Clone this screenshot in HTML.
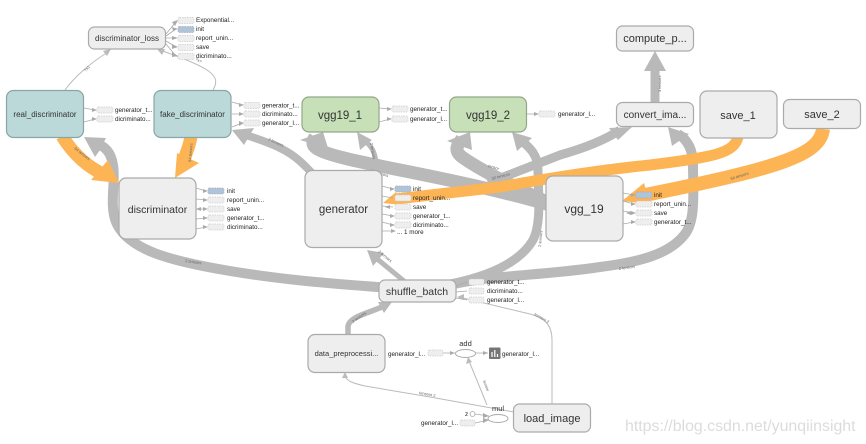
<!DOCTYPE html>
<html><head><meta charset="utf-8"><style>
html,body{margin:0;padding:0;background:#fff;width:866px;height:444px;overflow:hidden}
svg{display:block;filter:blur(.35px)}
text{font-family:"Liberation Sans",sans-serif;fill:#333}
.n{fill:#eee;stroke:#aaa;stroke-width:1.2}
.t{fill:#bbd9d9;stroke:#8aa5a5;stroke-width:1.2}
.g{fill:#c7e0b8;stroke:#93a88a;stroke-width:1.2}
.e{fill:none;stroke:#b9b9b9}
.o{fill:none;stroke:#fdb455}
.th{fill:none;stroke:#bbb;stroke-width:1}
.a{fill:#eee;stroke:#ccc;stroke-width:.7;stroke-dasharray:1.5 1}
.b{fill:#b0c4d8;stroke:#aab;stroke-width:.7;stroke-dasharray:1.5 1}
.l{font-size:6.3px;fill:#222}
.m{font-size:4px;fill:#666}
.c{text-anchor:middle}
</style></head><body>
<svg width="866" height="444" viewBox="0 0 866 444" xmlns="http://www.w3.org/2000/svg">
<rect width="866" height="444" fill="#fff"/>
<!-- thick gray edges -->
<path class="e" stroke-width="10" d="M390 288 C340 284 290 281 230 271 C170 261 128 250 116 222 C109 205 116 180 113 165 C111 152 105 146 95 143"/>
<polygon fill="#b9b9b9" points="84,137 106,138 100,150 95,157"/>
<path class="e" stroke-width="8" d="M320 182 C305 165 295 155 280 148 C270 143 258 139 246 135"/>
<polygon fill="#b9b9b9" points="232,130 254,128 244,145"/>
<path class="e" stroke-width="5" d="M404 281 L376 258"/>
<polygon fill="#b9b9b9" points="367,250 384,253 373,266"/>
<path class="e" stroke-width="13" d="M560 208 C500 190 440 178 400 170 C360 162 325 155 316 148 C311 144 313 140 315 137"/>
<polygon fill="#b9b9b9" points="323,132 328,148 300,140"/>
<path class="e" stroke-width="5" d="M376 166 C376 152 371 146 365 141"/>
<polygon fill="#b9b9b9" points="357,132 372,140 360,150"/>
<path class="e" stroke-width="13" d="M560 208 C520 190 480 170 462 157 C453 150 458 144 462 139"/>
<polygon fill="#b9b9b9" points="470,132 472,150 447,141"/>
<path class="e" stroke-width="9" d="M450 284 C490 276 520 262 533 240 C542 222 538 190 538 170 C538 155 530 148 522 141"/>
<polygon fill="#b9b9b9" points="512,132 532,138 517,151"/>
<path class="e" stroke-width="9" d="M488 183 L560 155 C585 148 605 140 620 130"/>
<polygon fill="#b9b9b9" points="632,127 609,128 618,140"/>
<path class="e" stroke-width="10" d="M450 285 C490 275 540 276 600 267 C640 262 670 254 685 234 C696 220 693 190 693 165 C693 150 688 140 678 134"/>
<polygon fill="#b9b9b9" points="668,127 689,134 672,146"/>
<path class="e" stroke-width="9" d="M655 102 L655 66"/>
<polygon fill="#b9b9b9" points="655,51 666,71 644,71"/>
<path class="e" stroke-width="5.5" d="M348 335 L348 326 C350 316 370 313 384 306"/>
<polygon fill="#b9b9b9" points="392,302 378,302 384,313"/>
<!-- orange edges -->
<path class="o" stroke-width="13" d="M62 136 C72 152 85 166 105 175"/>
<polygon fill="#fdb455" points="119,183 91,180 108,160"/>
<path class="o" stroke-width="13" d="M191 136 C190 145 187 150 184 160"/>
<polygon fill="#fdb455" points="175,178 177,153 199,163"/>
<path class="o" stroke-width="11" d="M738 137 C734 153 715 157 650 165 C600 170 555 177 500 187 L396 199"/>
<polygon fill="#fdb455" points="383,203 396,192 401,205"/>
<path class="o" stroke-width="14" d="M823 129 C820 155 780 168 640 196"/>
<polygon fill="#fdb455" points="622,201 644,183 650,204"/>
<!-- thin edges -->
<path class="th" d="M552 404 L552 340 C552 325 545 318 530 314 L463 298"/>
<polygon fill="#bbb" points="457,297 464,294 464,300"/>
<path class="th" d="M514 412 L430 397 L365 386 C352 383 347 381 345 376"/>
<polygon fill="#bbb" points="345,372 342,378 348,378"/>
<path class="th" d="M65 90 C75 76 92 62 108 52"/>
<polygon fill="#bbb" points="111,49 103,51 107,56"/>
<path class="th" d="M213 90 C222 75 210 68 160 50"/>
<polygon fill="#bbb" points="157,49 165,49 162,55"/>
<path class="th" d="M487 405 L469 361"/>
<polygon fill="#bbb" points="468,357 466,364 472,362"/>
<g fill="none" stroke="#aaa" stroke-width=".8">
<path d="M166 34 L175 23M166 36 L176 29M166 38 L176 38M166 41 L176 47M166 44 L176 56"/>
<path d="M84 108 L95 110M84 122 L95 119"/>
<path d="M232 102 L242 105M232 114 L242 114M232 127 L242 123"/>
<path d="M379 108 L390 109M379 122 L390 119"/>
<path d="M527 114 L537 114"/>
<path d="M382 186 L393 189M382 196 L393 198M382 206 L393 207M382 214 L393 216M382 222 L393 225M382 231 L394 231"/>
<path d="M623 193 L634 195M623 201 L634 204M623 211 L634 213M623 224 L634 222"/>
<path d="M196 188 L206 191M196 199 L206 200M196 209 L206 209M196 219 L206 218M196 229 L206 227"/>
<path d="M456 286 L467 282M456 292 L467 291M456 298 L467 300"/>
<path d="M443 353 L455 353M475 353 L488 353"/>
<path d="M475 414 L489 416M475 423 L489 420"/>
</g>
<g fill="#aaa">
<polygon points="178,20 172,22 175,26"/><polygon points="178,29 172,27 173,31"/><polygon points="178,38 172,36 172,40"/><polygon points="178,47 172,44 172,49"/><polygon points="178,56 172,52 172,57"/>
<polygon points="97,110 92,108 92,112"/><polygon points="97,119 92,117 92,121"/>
<polygon points="244,105 239,103 239,107"/><polygon points="244,114 239,112 239,116"/><polygon points="244,123 239,121 239,126"/>
<polygon points="392,109 387,107 387,111"/><polygon points="392,119 387,117 387,121"/>
<polygon points="539,114 534,112 534,116"/>
<polygon points="395,189 390,187 390,191"/><polygon points="395,216 390,214 390,218"/><polygon points="395,225 390,223 390,227"/><polygon points="396,231 391,229 391,233"/><polygon points="385,207 390,205 390,209"/>
<polygon points="636,195 631,193 631,197"/><polygon points="636,204 631,202 631,206"/><polygon points="636,213 631,211 631,215"/><polygon points="636,222 631,220 631,224"/><polygon points="626,213 631,211 631,215"/>
<polygon points="208,191 203,189 203,193"/><polygon points="208,200 203,198 203,202"/><polygon points="208,209 203,207 203,211"/><polygon points="196,209 201,207 201,211"/><polygon points="208,218 203,216 203,220"/><polygon points="208,227 203,225 203,229"/>
<polygon points="455,353 450,351 450,355"/><polygon points="488,353 483,351 483,355"/>
<polygon points="489,416 483,413 483,418"/><polygon points="489,420 483,418 483,423"/>
</g>
<!-- edge labels -->
<text class="m" transform="translate(86 72) rotate(-50)">?x1</text>
<text class="m" transform="translate(195 60) rotate(30)">?x?</text>
<text class="m" transform="translate(74 149) rotate(38)">64 tensors</text>
<text class="m" transform="translate(191 162) rotate(-85)">64 tensors</text>
<text class="m" transform="translate(268 140) rotate(25)">2 tensors</text>
<text class="m" transform="translate(370 172) rotate(16)">32 tensors</text>
<text class="m" transform="translate(370 143) rotate(80)">2 tensors</text>
<text class="m" transform="translate(488 167) rotate(16)">tensor</text>
<text class="m" transform="translate(492 180) rotate(-15)">32 tensors</text>
<text class="m" transform="translate(541 247) rotate(-85)">2 tensors</text>
<text class="m" transform="translate(185 262) rotate(8)">2 tensors</text>
<text class="m" transform="translate(619 270) rotate(-8)">2 tensors</text>
<text class="m" transform="translate(661 92) rotate(-90)">3 tensors</text>
<text class="m" transform="translate(731 180) rotate(-17)">64 tensors</text>
<text class="m" transform="translate(378 252) rotate(40)">3 tensors</text>
<text class="m" transform="translate(353 323) rotate(-35)">3 tensors</text>
<text class="m" transform="translate(534 315) rotate(30)">tensors 2</text>
<text class="m" transform="translate(419 394) rotate(10)">tensors 2</text>
<text class="m" transform="translate(483 381) rotate(70)">tensor</text>
<!-- nodes -->
<rect class="n" x="88.500" y="27" width="77" height="22" rx="6"/>
<rect class="t" x="6.500" y="90.500" width="77" height="47" rx="7"/>
<rect class="t" x="154" y="90.500" width="77" height="47" rx="7"/>
<rect class="g" x="302" y="97" width="77" height="35" rx="7"/>
<rect class="g" x="449.500" y="97" width="77" height="35" rx="7"/>
<rect class="n" x="305" y="170.500" width="77" height="77" rx="7"/>
<rect class="n" x="546" y="176" width="77" height="65" rx="7"/>
<rect class="n" x="616.500" y="26" width="77" height="25" rx="6"/>
<rect class="n" x="616.500" y="102.500" width="77" height="24" rx="6"/>
<rect class="n" x="700" y="91" width="77" height="47" rx="7"/>
<rect class="n" x="783.500" y="99.500" width="77" height="29" rx="6"/>
<rect class="n" x="119" y="178" width="77" height="61" rx="7"/>
<rect class="n" x="379" y="280" width="77" height="22" rx="6"/>
<rect class="n" x="308" y="334.500" width="77" height="38" rx="7"/>
<rect class="n" x="513.500" y="404" width="77" height="28" rx="6"/>
<text class="c" x="127" y="41" font-size="8">discriminator_loss</text>
<text class="c" x="45" y="117" font-size="8">real_discriminator</text>
<text class="c" x="192.500" y="117" font-size="8">fake_discriminator</text>
<text class="c" x="340" y="119" font-size="11.500">vgg19_1</text>
<text class="c" x="488" y="119" font-size="11.500">vgg19_2</text>
<text class="c" x="343.500" y="213" font-size="11.500">generator</text>
<text class="c" x="584" y="213" font-size="12">vgg_19</text>
<text class="c" x="655" y="42" font-size="11">compute_p...</text>
<text class="c" x="655" y="118" font-size="10">convert_ima...</text>
<text class="c" x="738" y="119" font-size="11">save_1</text>
<text class="c" x="822" y="118" font-size="11">save_2</text>
<text class="c" x="157.500" y="213" font-size="10.500">discriminator</text>
<text class="c" x="417" y="295" font-size="10.500">shuffle_batch</text>
<text class="c" x="346.500" y="356" font-size="7.500">data_preprocessi...</text>
<text class="c" x="552" y="422" font-size="11">load_image</text>
<!-- aux nodes -->
<rect class="a" x="178" y="17.500" width="16" height="6" rx="1.500"/><text class="l" x="196" y="22">Exponential...</text>
<rect class="b" x="178" y="26.500" width="16" height="6" rx="1.500"/><text class="l" x="196" y="31">init</text>
<rect class="a" x="178" y="35.500" width="16" height="6" rx="1.500"/><text class="l" x="196" y="40">report_unin...</text>
<rect class="a" x="178" y="44.500" width="16" height="6" rx="1.500"/><text class="l" x="196" y="49">save</text>
<rect class="a" x="178" y="53.500" width="16" height="6" rx="1.500"/><text class="l" x="196" y="58">dicriminato...</text>
<rect class="a" x="97" y="107" width="16" height="6" rx="1.500"/><text class="l" x="115" y="112">generator_t...</text>
<rect class="a" x="97" y="116" width="16" height="6" rx="1.500"/><text class="l" x="115" y="121">dicriminato...</text>
<rect class="a" x="244" y="102.500" width="16" height="6" rx="1.500"/><text class="l" x="262" y="107.500">generator_t...</text>
<rect class="a" x="244" y="111" width="16" height="6" rx="1.500"/><text class="l" x="262" y="116">dicriminato...</text>
<rect class="a" x="244" y="120" width="16" height="6" rx="1.500"/><text class="l" x="262" y="125">generator_l...</text>
<rect class="a" x="392" y="106" width="16" height="6" rx="1.500"/><text class="l" x="410" y="111">generator_t...</text>
<rect class="a" x="392" y="116" width="16" height="6" rx="1.500"/><text class="l" x="410" y="121">generator_l...</text>
<rect class="a" x="539" y="111" width="16" height="6" rx="1.500"/><text class="l" x="558" y="116">generator_l...</text>
<rect class="b" x="395" y="186" width="16" height="6" rx="1.500"/><text class="l" x="413" y="191">init</text>
<rect class="a" x="395" y="195" width="16" height="6" rx="1.500"/><text class="l" x="413" y="200">report_unin...</text>
<rect class="a" x="395" y="204" width="16" height="6" rx="1.500"/><text class="l" x="413" y="209">save</text>
<rect class="a" x="395" y="213" width="16" height="6" rx="1.500"/><text class="l" x="413" y="218">generator_t...</text>
<rect class="a" x="395" y="222" width="16" height="6" rx="1.500"/><text class="l" x="413" y="227">dicriminato...</text>
<text class="l" x="397" y="234">... 1 more</text>
<rect class="b" x="636" y="192" width="16" height="6" rx="1.500"/><text class="l" x="654" y="197">init</text>
<rect class="a" x="636" y="201" width="16" height="6" rx="1.500"/><text class="l" x="654" y="206">report_unin...</text>
<rect class="a" x="636" y="210" width="16" height="6" rx="1.500"/><text class="l" x="654" y="215">save</text>
<rect class="a" x="636" y="219" width="16" height="6" rx="1.500"/><text class="l" x="654" y="224">generator_t...</text>
<rect class="b" x="208" y="188" width="16" height="6" rx="1.500"/><text class="l" x="227" y="193">init</text>
<rect class="a" x="208" y="197" width="16" height="6" rx="1.500"/><text class="l" x="227" y="202">report_unin...</text>
<rect class="a" x="208" y="206" width="16" height="6" rx="1.500"/><text class="l" x="227" y="211">save</text>
<rect class="a" x="208" y="215" width="16" height="6" rx="1.500"/><text class="l" x="227" y="220">generator_t...</text>
<rect class="a" x="208" y="224" width="16" height="6" rx="1.500"/><text class="l" x="227" y="229">dicriminato...</text>
<rect class="a" x="469" y="279" width="15" height="6" rx="1.500"/><text class="l" x="487" y="284">generator_t...</text>
<rect class="a" x="469" y="288" width="15" height="6" rx="1.500"/><text class="l" x="487" y="293">dicriminato...</text>
<rect class="a" x="469" y="297" width="15" height="6" rx="1.500"/><text class="l" x="487" y="302">generator_l...</text>
<text class="l" x="388" y="356">generator_l...</text>
<rect class="a" x="428" y="350" width="15" height="6" rx="1.500"/>
<ellipse cx="465.500" cy="353.500" rx="10" ry="4" fill="#fff" stroke="#aaa" stroke-width="1"/>
<text class="c" x="465.500" y="346" font-size="7.500">add</text>
<rect x="489" y="347.500" width="11.500" height="11.500" rx="1" fill="#757575"/>
<path d="M492 357V352M494.800 357V350M497.500 357V354" stroke="#fff" stroke-width="1.200"/>
<text class="l" x="502" y="356">generator_l...</text>
<ellipse cx="498" cy="418.500" rx="10" ry="4" fill="#fff" stroke="#aaa" stroke-width="1"/>
<text class="c" x="498" y="411" font-size="7.500">mul</text>
<text class="l" x="465" y="416">z</text>
<circle cx="472.500" cy="414" r="2.500" fill="#fff" stroke="#aaa" stroke-width=".8"/>
<text class="l" x="421" y="425">generator_l...</text>
<rect class="a" x="460" y="420" width="15" height="6" rx="1.500"/>
<!-- watermark -->
<text x="625" y="431" font-size="15.900" style="fill:#dcdcdc">https://blog.csdn.net/yunqiinsight</text>
</svg>
</body></html>
